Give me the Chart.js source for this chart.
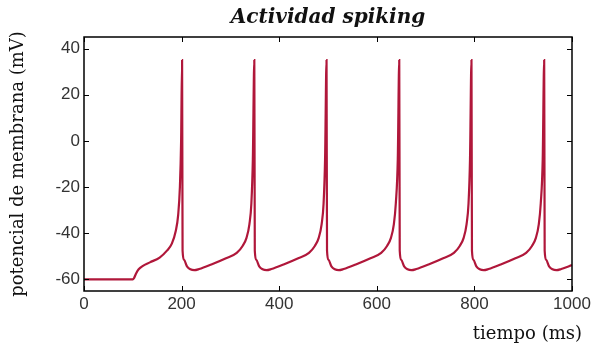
<!DOCTYPE html>
<html lang="es">
<head>
    <meta charset="UTF-8">
    <title>Actividad spiking</title>
    <style>
        body, html {
            margin: 0;
            padding: 0;
            background: #fff;
            overflow: hidden;
        }
        #chart {
            display: block;
        }
    </style>
</head>
<body>

<canvas id="chart" width="598" height="345"></canvas>

<script src="https://cdn.jsdelivr.net/npm/chart.js"></script>
<script>
    // tiempo (ms)
    const tiempo = [
        0, 100, 103, 107, 112, 120, 135, 155, 170, 180, 188, 193, 196.5, 199, 201,
        202, 205, 211, 218, 226, 236, 261, 291, 313, 325, 333, 339, 343, 346, 349,
        350, 353, 359, 366, 374, 384, 409, 439, 461, 473, 481, 487, 491, 494, 497,
        498, 501, 507, 514, 522, 532, 557, 587, 609, 621, 629, 635, 639, 643, 646,
        647, 650, 656, 663, 671, 681, 706, 736, 758, 770, 778, 784, 788, 791, 794,
        795, 798, 804, 811, 819, 829, 854, 884, 906, 918, 926, 932, 936, 940, 943,
        944, 947, 953, 960, 968, 978, 1000
    ];

    // potencial de membrana (mV)
    const potencial = [
        -60, -60, -59.2, -57.3, -55.6, -54.2, -52.6, -50.5, -47.5, -44.5, -39, -32, -20, 0, 35,
        -47.5, -51.5, -54.3, -55.6, -56, -55.5, -53.5, -50.8, -48.5, -45.5, -42, -36, -27, -8, 35,
        -47.5, -51.5, -54.3, -55.6, -56, -55.5, -53.5, -50.8, -48.5, -45.5, -42, -36, -27, -8, 35,
        -47.5, -51.5, -54.3, -55.6, -56, -55.5, -53.5, -50.8, -48.5, -45.5, -42, -36, -27, -8, 35,
        -47.5, -51.5, -54.3, -55.6, -56, -55.5, -53.5, -50.8, -48.5, -45.5, -42, -36, -27, -8, 35,
        -47.5, -51.5, -54.3, -55.6, -56, -55.5, -53.5, -50.8, -48.5, -45.5, -42, -36, -27, -8, 35,
        -47.5, -51.5, -54.3, -55.6, -56, -55.5, -53.8
    ];

    const xTicks = [0, 200, 400, 600, 800, 1000];
    const yTicks = [-60, -40, -20, 0, 20, 40];

    const serif = "'DejaVu Serif', serif";
    const sans = "'Liberation Sans', Arial, sans-serif";

    // box around the plot with inward ticks on all four sides, plus the x title
    const boxTicks = {
        id: 'boxTicks',
        afterDraw(chart) {
            const ctx = chart.ctx;
            const a = chart.chartArea;
            const xs = chart.scales.x;
            const ys = chart.scales.y;
            const len = 5;

            ctx.save();
            ctx.strokeStyle = '#000';
            ctx.lineWidth = 1;
            ctx.beginPath();
            xTicks.forEach(v => {
                const px = Math.round(xs.getPixelForValue(v)) + 0.5;
                ctx.moveTo(px, a.bottom);
                ctx.lineTo(px, a.bottom - len);
                ctx.moveTo(px, a.top);
                ctx.lineTo(px, a.top + len);
            });
            yTicks.forEach(v => {
                const py = Math.round(ys.getPixelForValue(v)) + 0.5;
                ctx.moveTo(a.left, py);
                ctx.lineTo(a.left + len, py);
                ctx.moveTo(a.right, py);
                ctx.lineTo(a.right - len, py);
            });
            ctx.stroke();

            ctx.lineWidth = 1.5;
            ctx.strokeRect(a.left, a.top, a.right - a.left, a.bottom - a.top);

            ctx.fillStyle = '#111';
            ctx.font = '18px ' + serif;
            ctx.textAlign = 'right';
            ctx.textBaseline = 'alphabetic';
            ctx.fillText('tiempo (ms)', a.right + 10, 339);
            ctx.restore();
        }
    };

    const points = tiempo.map((t, i) => ({ x: t, y: potencial[i] }));

    new Chart(document.getElementById('chart'), {
        type: 'line',
        data: {
            datasets: [{
                label: 'potencial',
                data: points,
                borderColor: '#b0173a',
                borderWidth: 2.2,
                pointRadius: 0,
                fill: false,
                cubicInterpolationMode: 'monotone'
            }]
        },
        options: {
            responsive: false,
            animation: false,
            layout: { padding: { left: 0, right: 26, top: 0, bottom: 0 } },
            plugins: {
                legend: { display: false },
                tooltip: { enabled: false },
                title: {
                    display: true,
                    text: 'Actividad spiking',
                    fullSize: false,
                    color: '#111',
                    font: { family: serif, size: 20, weight: 'bold', style: 'italic' },
                    padding: { top: 5.5, bottom: 7.5 }
                }
            },
            scales: {
                x: {
                    type: 'linear',
                    min: 0,
                    max: 1000,
                    afterBuildTicks: s => { s.ticks = xTicks.map(v => ({ value: v })); },
                    afterFit: s => { s.height = 54; },
                    grid: { display: false, drawTicks: false },
                    border: { display: false },
                    ticks: {
                        color: '#333',
                        padding: 3,
                        maxRotation: 0,
                        font: { family: sans, size: 17 },
                        callback: v => String(v)
                    }
                },
                y: {
                    min: -65,
                    max: 45,
                    afterBuildTicks: s => { s.ticks = yTicks.map(v => ({ value: v })); },
                    afterFit: s => { s.width = 84; },
                    grid: { display: false, drawTicks: false },
                    border: { display: false },
                    ticks: {
                        color: '#333',
                        padding: 4,
                        font: { family: sans, size: 17 },
                        callback: v => String(v)
                    },
                    title: {
                        display: true,
                        text: 'potencial de membrana (mV)',
                        color: '#111',
                        font: { family: serif, size: 18 },
                        padding: { top: 8, bottom: 0 }
                    }
                }
            }
        },
        plugins: [boxTicks]
    });
</script>

</body>
</html>
